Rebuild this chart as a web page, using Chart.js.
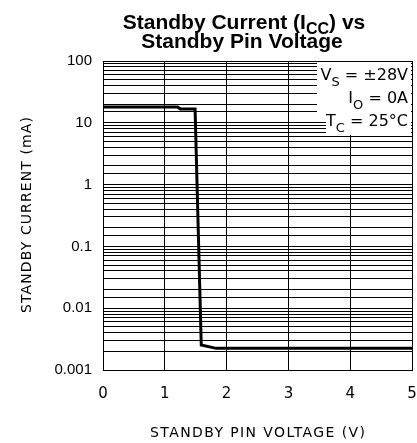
<!DOCTYPE html>
<html>
<head>
<meta charset="utf-8">
<script src="https://cdn.jsdelivr.net/npm/chart.js@4/dist/chart.umd.min.js"></script>
<style>
  html, body { margin: 0; padding: 0; background: #fff; }
  #wrap { width: 417px; height: 443px; }
</style>
</head>
<body>
<div id="wrap"><canvas id="chart" width="417" height="443"></canvas></div>
<script>
// Standby current vs standby pin voltage
const voltage = [0, 1.21, 1.25, 1.49, 1.59, 1.83, 5];
const current = [18, 18, 16.7, 16.7, 0.00254, 0.00224, 0.00224];
const xTicks = [0, 1, 2, 3, 4, 5];
const yRange = [0.001, 100];
const conditions = [
  [['V', false], ['S', true], [' = ±28V', false]],
  [['I', false], ['O', true], [' = 0A', false]],
  [['T', false], ['C', true], [' = 25°C', false]]
];

const thinFont = '"DejaVu Sans"';

// draws a run of [text, isSub] pieces, right aligned or centred at x
function drawRuns(ctx, runs, x, y, font, subFont, align, drop) {
  let total = 0;
  runs.forEach(([t, sub]) => {
    ctx.font = sub ? subFont : font;
    total += ctx.measureText(t).width;
  });
  let cx = align === 'right' ? x - total : x - total / 2;
  runs.forEach(([t, sub]) => {
    ctx.font = sub ? subFont : font;
    ctx.fillText(t, cx, sub ? y + drop : y);
    cx += ctx.measureText(t).width;
  });
}

function spacedText(ctx, text, target) {
  ctx.letterSpacing = '0px';
  const w = ctx.measureText(text).width;
  const ls = (target - w) / (text.length - 1);
  ctx.letterSpacing = ls + 'px';
}

const decorPlugin = {
  id: 'decor',
  afterDraw(chart) {
    const ctx = chart.ctx;
    const area = chart.chartArea;
    ctx.save();
    // title
    ctx.fillStyle = '#000';
    ctx.textBaseline = 'alphabetic';
    ctx.textAlign = 'left';
    drawRuns(ctx, [['Standby Current (I', false], ['CC', true], [') vs', false]], 244, 29,
      'bold 21px "Liberation Sans"', 'bold 16px "Liberation Sans"', 'center', 5);
    ctx.textAlign = 'center';
    ctx.font = 'bold 21px "Liberation Sans"';
    ctx.fillText('Standby Pin Voltage', 242, 48);
    ctx.textAlign = 'left';

    // conditions box
    ctx.fillStyle = '#fff';
    ctx.fillRect(317, area.top + 1, area.right - 317 - 1, 58);
    ctx.fillRect(326, area.top + 1, area.right - 326 - 1, 73);
    ctx.fillStyle = '#000';
    const rowsY = [80, 103, 126];
    conditions.forEach((runs, i) => {
      drawRuns(ctx, runs, 408, rowsY[i], '16px ' + thinFont, '13px ' + thinFont, 'right', 6);
    });

    // axis titles
    ctx.font = '14px ' + thinFont;
    const xt = 'STANDBY PIN VOLTAGE (V)';
    spacedText(ctx, xt, 215);
    ctx.fillText(xt, 150, 437);
    const yt = 'STANDBY CURRENT (mA)';
    spacedText(ctx, yt, 196);
    ctx.translate(31, 313);
    ctx.rotate(-Math.PI / 2);
    ctx.fillText(yt, 0, 0);
    ctx.restore();
    ctx.letterSpacing = '0px';
  }
};

new Chart(document.getElementById('chart').getContext('2d'), {
  type: 'line',
  data: {
    datasets: [{
      data: voltage.map((v, i) => ({ x: v, y: current[i] })),
      borderColor: '#000',
      borderWidth: 3,
      pointRadius: 0,
      tension: 0,
      fill: false
    }]
  },
  options: {
    responsive: false,
    animation: false,
    layout: { padding: { left: 0, right: 5, top: 61, bottom: 0 } },
    plugins: {
      legend: { display: false },
      tooltip: { enabled: false }
    },
    scales: {
      x: {
        type: 'linear',
        min: xTicks[0],
        max: xTicks[xTicks.length - 1],
        afterFit: scale => {
          scale.height = 73;
          scale.paddingLeft = 0;
          scale.paddingRight = 0;
        },
        afterBuildTicks: scale => { scale.ticks = xTicks.map(v => ({ value: v })); },
        grid: { color: '#000', lineWidth: 1, drawTicks: false },
        border: { color: '#000', width: 1 },
        ticks: {
          color: '#000',
          padding: 15,
          font: { family: 'DejaVu Sans', size: 15 },
          maxRotation: 0
        }
      },
      y: {
        type: 'logarithmic',
        min: yRange[0],
        max: yRange[1],
        afterFit: scale => {
          scale.width = 103;
          scale.paddingTop = 0;
          scale.paddingBottom = 0;
        },
        grid: { color: '#000', lineWidth: 1, drawTicks: false },
        border: { color: '#000', width: 1 },
        ticks: {
          color: '#000',
          padding: 11,
          autoSkip: false,
          font: { family: 'Liberation Sans', size: 15 },
          callback: v => {
            const l = Math.log10(v);
            return Math.abs(l - Math.round(l)) < 1e-6 ? String(Number(v.toPrecision(1))) : '';
          }
        }
      }
    }
  },
  plugins: [decorPlugin]
});
</script>
</body>
</html>
